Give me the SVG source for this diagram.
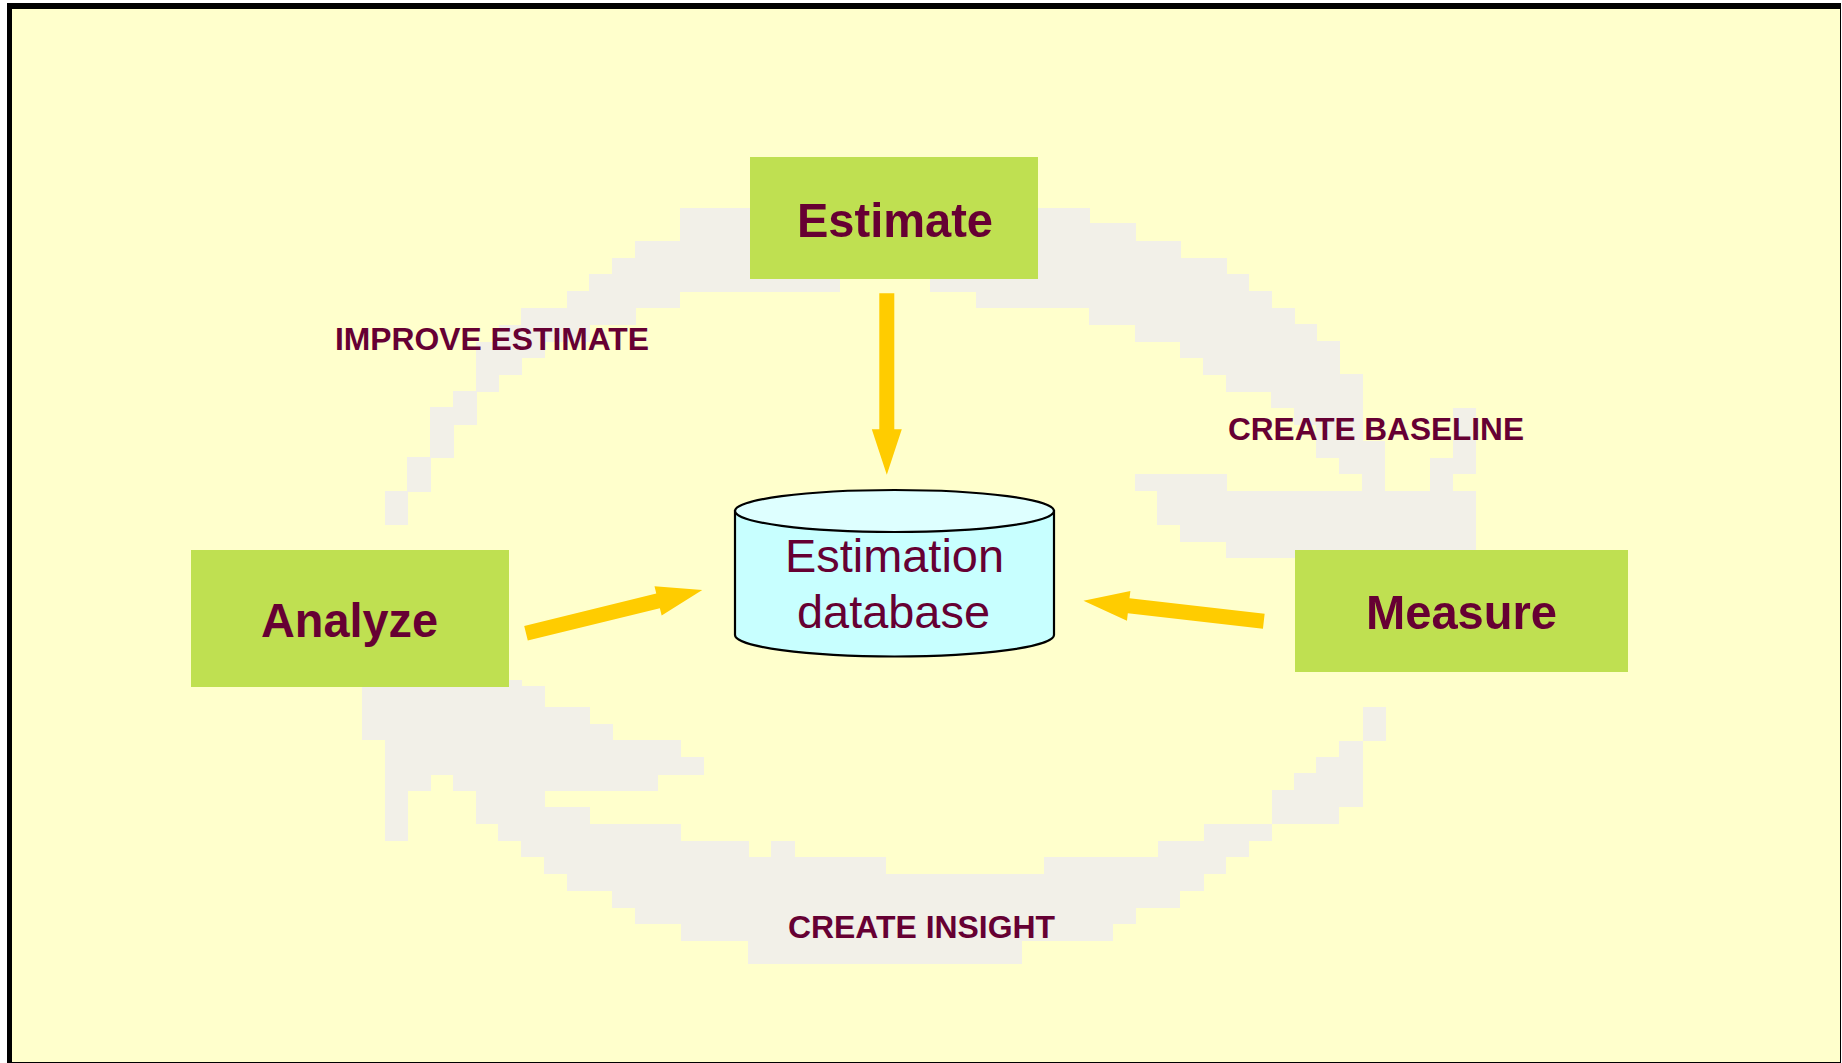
<svg xmlns="http://www.w3.org/2000/svg" xmlns:xlink="http://www.w3.org/1999/xlink" width="1842" height="1063" viewBox="0 0 1842 1063">
  <style>
    .bg { fill: #FFFFCC; }
    .blob { fill: #F2F0E8; }
    .box { fill: #BFE051; }
    .node-text { font-family: "Liberation Sans", Arial, sans-serif; font-weight: bold; font-size: 49px; fill: #660033; }
    .label { font-family: "Liberation Sans", Arial, sans-serif; font-weight: bold; font-size: 32px; fill: #660033; }
    .db-text { font-family: "Liberation Sans", Arial, sans-serif; font-size: 46px; fill: #660033; }
    .arrow { fill: #FFCC00; }
  </style>
  <defs>
    <polygon id="arr" points="0,-7.5 136,-7.5 136,-15 181.5,0 136,15 136,7.5 0,7.5"/>
  </defs>

  <rect x="0" y="0" width="1842" height="1063" fill="#FFFFFF"/>
  <rect x="7" y="3" width="1834" height="1060" fill="#000000"/>
  <rect class="bg" x="12" y="9" width="1828" height="1053"/>

  <g id="background-arcs" class="blob">
    <polygon points="385,525 385,491 407,491 407,457 430,457 430,407 453,407 453,391 476,391 476,342 499,342 499,325 521,325 521,308 567,308 567,291 589,291 589,274 612,274 612,258 635,258 635,241 680,241 680,208 1090,208 1090,223 1136,223 1136,241 1181,241 1181,258 1227,258 1227,274 1249,274 1249,291 1272,291 1272,308 1295,308 1295,324 1317,324 1317,341 1340,341 1340,374 1363,374 1363,441 1385,441 1385,491 1362,491 1362,474 1339,474 1339,458 1316,458 1316,425 1294,425 1294,408 1271,408 1271,392 1226,392 1226,375 1203,375 1203,358 1180,358 1180,342 1135,342 1135,325 1089,325 1089,308 976,308 976,292 930,292 930,279 840,279 840,292 680,292 680,308 636,308 636,325 590,325 590,342 545,342 545,358 522,358 522,375 499,375 499,392 477,392 477,425 454,425 454,458 431,458 431,492 408,492 408,525"/>
    <polygon points="1135,474 1227,474 1227,491 1430,491 1430,458 1453,458 1453,408 1476,408 1476,474 1453,474 1453,491 1476,491 1476,558 1226,558 1226,542 1180,542 1180,525 1157,525 1157,491 1135,491"/>
    <rect x="509" y="680" width="13" height="10"/>
    <rect x="362" y="686" width="183" height="21"/>
    <rect x="362" y="707" width="228" height="17"/>
    <rect x="362" y="724" width="251" height="16"/>
    <rect x="385" y="740" width="296" height="17"/>
    <rect x="385" y="757" width="319" height="18"/>
    <rect x="385" y="775" width="46" height="16"/>
    <rect x="453" y="775" width="205" height="16"/>
    <rect x="385" y="791" width="23" height="50"/>
    <rect x="476" y="791" width="69" height="16"/>
    <rect x="476" y="807" width="114" height="17"/>
    <rect x="498" y="824" width="183" height="17"/>
    <rect x="521" y="841" width="228" height="16"/>
    <rect x="771" y="841" width="24" height="16"/>
    <rect x="544" y="857" width="342" height="17"/>
    <rect x="1044" y="857" width="182" height="17"/>
    <rect x="567" y="874" width="637" height="17"/>
    <rect x="612" y="891" width="568" height="17"/>
    <rect x="635" y="908" width="501" height="16"/>
    <rect x="681" y="924" width="432" height="17"/>
    <rect x="748" y="941" width="274" height="23"/>
    <rect x="1158" y="841" width="91" height="16"/>
    <rect x="1204" y="824" width="68" height="17"/>
    <rect x="1272" y="807" width="67" height="17"/>
    <rect x="1272" y="790" width="91" height="17"/>
    <rect x="1294" y="773" width="69" height="17"/>
    <rect x="1316" y="757" width="47" height="16"/>
    <rect x="1339" y="741" width="24" height="16"/>
    <rect x="1363" y="707" width="23" height="34"/>
  </g>

  <g id="connectors" class="arrow">
    <use xlink:href="#arr" href="#arr" transform="translate(886.8,293.3) rotate(90)"/>
    <use xlink:href="#arr" href="#arr" transform="translate(526,633.3) rotate(-13.8)"/>
    <use xlink:href="#arr" href="#arr" transform="translate(1263.8,621.2) rotate(186.5)"/>
  </g>

  <g id="node-estimate">
    <rect class="box" x="750" y="157" width="288" height="122"/>
    <text class="node-text" x="797" y="237" textLength="196" lengthAdjust="spacingAndGlyphs">Estimate</text>
  </g>

  <g id="node-analyze">
    <rect class="box" x="191" y="550" width="318" height="137"/>
    <text class="node-text" x="261" y="637" textLength="177" lengthAdjust="spacingAndGlyphs">Analyze</text>
  </g>

  <g id="node-measure">
    <rect class="box" x="1295" y="550" width="333" height="122"/>
    <text class="node-text" x="1366" y="629" textLength="191" lengthAdjust="spacingAndGlyphs">Measure</text>
  </g>

  <g id="node-database">
    <path d="M735,511 L735,635 A159.5,21.5 0 0 0 1054,635 L1054,511 Z" fill="#C8FFFF" stroke="#000000" stroke-width="2.2"/>
    <ellipse cx="894.5" cy="511" rx="159.5" ry="21" fill="#DEFFFF" stroke="#000000" stroke-width="2.2"/>
    <text class="db-text" x="785" y="572" textLength="219" lengthAdjust="spacingAndGlyphs">Estimation</text>
    <text class="db-text" x="797" y="628" textLength="193" lengthAdjust="spacingAndGlyphs">database</text>
  </g>

  <g id="labels">
    <text class="label" x="335" y="350" textLength="314" lengthAdjust="spacingAndGlyphs">IMPROVE ESTIMATE</text>
    <text class="label" x="1228" y="440" textLength="296" lengthAdjust="spacingAndGlyphs">CREATE BASELINE</text>
    <text class="label" x="788" y="938" textLength="267" lengthAdjust="spacingAndGlyphs">CREATE INSIGHT</text>
  </g>
</svg>
